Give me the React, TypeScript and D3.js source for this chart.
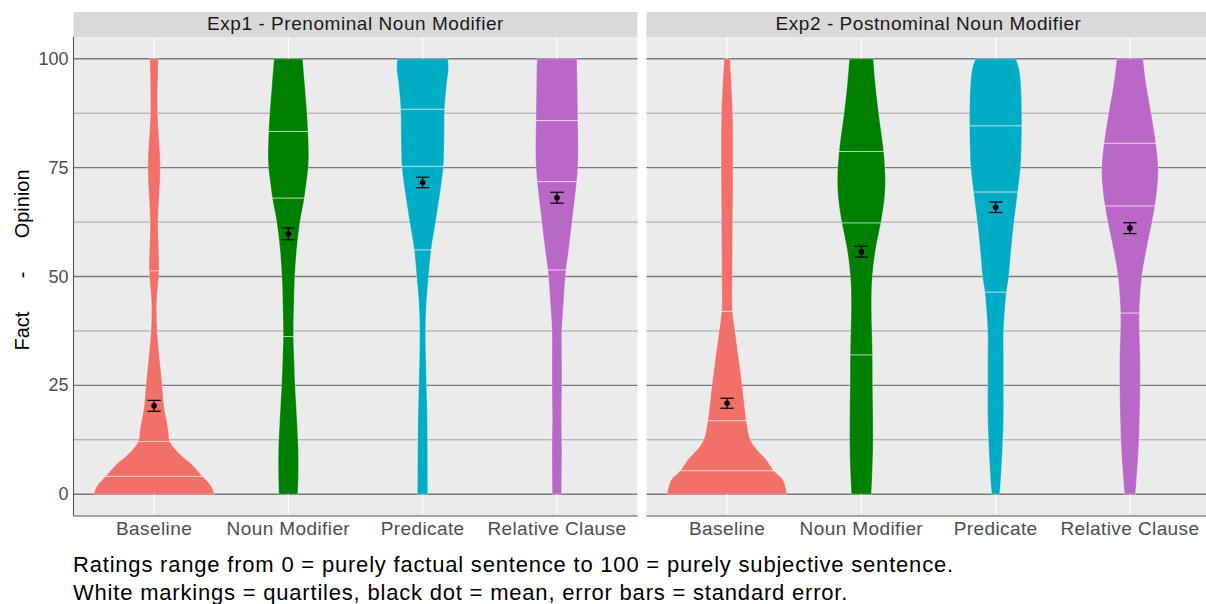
import { select, scaleLinear, scalePoint, area, curveCatmullRom } from "d3";
import React, { useEffect, useRef } from "react";

const categories = ["Baseline", "Noun Modifier", "Predicate", "Relative Clause"];
const experiments = ["Exp1 - Prenominal Noun Modifier", "Exp2 - Postnominal Noun Modifier"];
const yTicks = [0, 25, 50, 75, 100];
const yMinorTicks = [12.5, 37.5, 62.5, 87.5];
const colors = ["#F2706A", "#008000", "#00ADC4", "#BA68C8"];

// violin outlines: [rating, relative density]
const exp1Baseline = [[0, 181], [1.8, 172], [4.1, 145], [5.6, 128], [7.1, 110], [8.5, 88], [10.2, 65], [12.1, 48], [15.5, 41], [20.1, 30], [24.7, 25], [30.9, 17], [37.4, 9.5], [43.9, 8], [51.5, 15], [62.5, 12], [75.3, 19], [87.5, 11], [100, 13]];
const exp1NounMod = [[0, 28.5], [4.1, 30], [10.2, 30], [17.8, 25.5], [24.7, 20.5], [30.9, 17.5], [36.2, 15.5], [43.9, 17], [50, 19.5], [56.1, 25], [62.5, 35], [68, 48], [71.4, 54], [75.3, 60], [79.1, 61], [83.3, 59], [87.5, 56], [94.4, 49], [100, 43]];
const exp1Predicate = [[0, 15.5], [10.2, 15], [17.8, 14], [24.7, 12], [30.9, 10], [37.4, 9], [43.9, 11.5], [50, 18], [56.1, 25.5], [62.5, 39], [71.4, 56.5], [75.3, 62.5], [82.2, 65], [88.4, 66], [94.4, 72.5], [97.5, 77.5], [100, 76]];
const exp1RelClause = [[0, 14], [10.2, 15], [17.8, 14], [24.7, 15], [30.9, 15], [37.4, 15], [43.9, 20], [51.5, 27.5], [56.1, 35.5], [62.5, 45.5], [71.8, 59.5], [75.3, 63], [79.1, 64], [85.8, 63], [94.4, 61.5], [100, 60]];
const exp2Baseline = [[0, 180], [3.3, 167.5], [5.4, 140], [7.9, 118], [10.2, 90], [12.5, 70], [16.9, 58], [20.9, 51.5], [24.7, 46], [30.9, 35.5], [37.4, 24], [42, 16.5], [50, 16], [62.5, 17], [75.3, 18], [87.5, 17], [100, 9]];
const exp2NounMod = [[0, 30], [3.3, 32], [10.2, 35], [17.8, 35], [24.7, 34], [32, 33.5], [43.9, 30.5], [50, 33], [56.1, 42.5], [62.3, 58.5], [67.6, 69], [72.2, 72], [78.7, 67], [87.5, 52], [94.4, 42], [100, 36]];
const exp2Predicate = [[0, 12], [3.3, 15.5], [10.2, 20.5], [17.8, 24], [24.7, 24], [30.9, 24], [37.4, 24], [46.4, 32.5], [50, 39.5], [56.1, 46.5], [62.5, 55], [69.4, 66.5], [75.3, 75], [79.1, 77], [84.6, 78.5], [92.1, 77], [97.5, 71], [100, 60.5]];
const exp2RelClause = [[0, 16.5], [3.3, 20], [10.2, 26], [17.8, 29.5], [24.7, 31], [30.9, 31], [41.6, 28.5], [50, 36], [56.1, 49.5], [62.5, 66.5], [66.2, 75], [69.9, 81.5], [74.5, 85], [80.6, 78], [87.5, 64], [94.4, 48.5], [100, 39.5]];

// quartiles (25, 50, 75)
const exp1Quartiles = [[4.1, 12.1, 51.3], [36.2, 68.0, 83.3], [56.1, 75.3, 88.4], [51.5, 71.8, 85.8]];
const exp2Quartiles = [[5.4, 16.9, 42.0], [32.0, 62.3, 78.7], [46.4, 69.4, 84.6], [41.6, 66.2, 80.6]];
const exp1Means = [20.3, 59.8, 71.6, 68.1];
const exp2Means = [20.9, 55.7, 65.9, 61.1];
const exp1SE = [1.25, 1.35, 1.2, 1.25];
const exp2SE = [1.15, 1.25, 1.2, 1.25];

const captionLines = [
  "Ratings range from 0 = purely factual sentence to 100 = purely subjective sentence.",
  "White markings = quartiles, black dot = mean, error bars = standard error.",
];

const FONT = "'Liberation Sans', Arial, sans-serif";

function widthAt(profile, v) {
  for (let i = 1; i < profile.length; i++) {
    if (v <= profile[i][0]) {
      const [a, wa] = profile[i - 1];
      const [b, wb] = profile[i];
      return wa + ((v - a) / (b - a)) * (wb - wa);
    }
  }
  return profile[profile.length - 1][1];
}

function App() {
  const svgRef = useRef();

  useEffect(() => {
    const svg = select(svgRef.current);
    svg.selectAll("*").remove();

    const panels = [
      { title: experiments[0], x0: 73.5, x1: 637.5, violins: [exp1Baseline, exp1NounMod, exp1Predicate, exp1RelClause], q: exp1Quartiles, m: exp1Means, se: exp1SE },
      { title: experiments[1], x0: 646.5, x1: 1210.5, violins: [exp2Baseline, exp2NounMod, exp2Predicate, exp2RelClause], q: exp2Quartiles, m: exp2Means, se: exp2SE },
    ];

    const top = 37, bottom = 516;
    const y = scaleLinear().domain([-5, 105]).range([bottom, top]);

    panels.forEach((p, pi) => {
      const x = scalePoint().domain(categories).range([p.x0, p.x1]).padding(0.6);
      const w = scaleLinear().domain([0, 181]).range([0, x.step() * 0.45]);
      const g = svg.append("g");

      g.append("rect").attr("x", p.x0).attr("y", top).attr("width", p.x1 - p.x0).attr("height", bottom - top).attr("fill", "#EBEBEB");

      // strip
      g.append("rect").attr("x", p.x0).attr("y", 12).attr("width", p.x1 - p.x0).attr("height", top - 12).attr("fill", "#D9D9D9");
      g.append("text").attr("x", (p.x0 + p.x1) / 2).attr("y", 30.2).attr("text-anchor", "middle")
        .attr("font-size", 19).attr("letter-spacing", 0.55).attr("fill", "#1A1A1A").text(p.title);

      g.selectAll(".minor").data(yMinorTicks).join("line")
        .attr("x1", p.x0).attr("x2", p.x1).attr("y1", d => y(d)).attr("y2", d => y(d))
        .attr("stroke", "#8f8f8f").attr("stroke-width", 0.8);
      g.selectAll(".major").data(yTicks).join("line")
        .attr("x1", p.x0).attr("x2", p.x1).attr("y1", d => y(d)).attr("y2", d => y(d))
        .attr("stroke", "#7a7a7a").attr("stroke-width", 1.3);
      g.selectAll(".vgrid").data(categories).join("line")
        .attr("x1", d => x(d)).attr("x2", d => x(d)).attr("y1", top).attr("y2", bottom)
        .attr("stroke", "#ffffff").attr("stroke-width", 1.1);

      categories.forEach((c, i) => {
        const cx = x(c);
        const prof = p.violins[i];
        const gen = area().curve(curveCatmullRom)
          .y(d => y(d[0])).x0(d => cx - w(d[1])).x1(d => cx + w(d[1]));
        g.append("path").attr("d", gen(prof)).attr("fill", colors[i])
          .attr("stroke", "#ffffff").attr("stroke-opacity", 0.45).attr("stroke-width", 0.7);
        p.q[i].forEach(q => {
          const hw = w(widthAt(prof, q));
          g.append("line").attr("x1", cx - hw).attr("x2", cx + hw).attr("y1", y(q)).attr("y2", y(q))
            .attr("stroke", "#ffffff").attr("stroke-opacity", 0.7).attr("stroke-width", 1);
        });
        const m = p.m[i], s = p.se[i];
        g.append("line").attr("x1", cx).attr("x2", cx).attr("y1", y(m - s)).attr("y2", y(m + s)).attr("stroke", "#000").attr("stroke-width", 1.2);
        [m - s, m + s].forEach(v => {
          g.append("line").attr("x1", cx - 6.7).attr("x2", cx + 6.7).attr("y1", y(v)).attr("y2", y(v)).attr("stroke", "#000").attr("stroke-width", 1.2);
        });
        g.append("circle").attr("cx", cx).attr("cy", y(m)).attr("r", 2.8).attr("fill", "#000");
      });

      // axis lines
      g.append("line").attr("x1", p.x0).attr("x2", p.x1).attr("y1", bottom).attr("y2", bottom).attr("stroke", "#555").attr("stroke-width", 1.1);
      if (pi === 0) {
        g.append("line").attr("x1", p.x0).attr("x2", p.x0).attr("y1", top).attr("y2", bottom).attr("stroke", "#555").attr("stroke-width", 1.1);
        g.selectAll(".ylab").data(yTicks).join("text")
          .attr("x", p.x0 - 5).attr("y", d => y(d)).attr("text-anchor", "end").attr("dominant-baseline", "central")
          .attr("font-size", 18).attr("fill", "#4D4D4D").text(d => d);
      }
      g.selectAll(".xlab").data(categories).join("text")
        .attr("x", d => x(d)).attr("y", 528).attr("text-anchor", "middle").attr("dominant-baseline", "central")
        .attr("font-size", 19).attr("letter-spacing", 0.4).attr("fill", "#4D4D4D").text(d => d);
    });

    svg.append("text").attr("transform", "translate(22,260) rotate(-90)").attr("text-anchor", "middle")
      .attr("dominant-baseline", "central").attr("font-size", 20).attr("fill", "#000")
      .style("white-space", "pre").text("Fact      -      Opinion");

    svg.selectAll(".caption").data(captionLines).join("text")
      .attr("x", 73).attr("y", (d, i) => 572 + i * 28).attr("font-size", 22).attr("letter-spacing", 0.8)
      .attr("fill", "#000").text(d => d);
  }, []);

  return (
    <svg ref={svgRef} width={1206} height={604}
      style={{ position: "absolute", left: 0, top: 0, background: "#fff", fontFamily: FONT }} />
  );
}

export default App;
